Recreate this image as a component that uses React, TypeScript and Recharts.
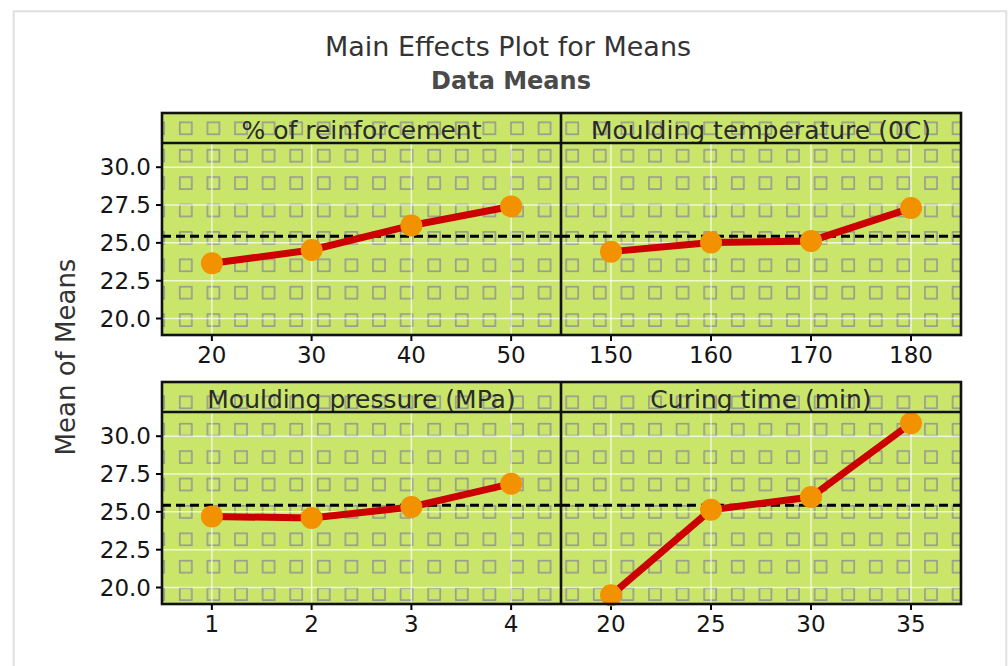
import React from 'react';
import { LineChart, Line, XAxis, YAxis, CartesianGrid, ReferenceLine } from 'recharts';

// Level settings and the mean response at each level
const reinforcementLevels = [20, 30, 40, 50];
const reinforcementMeans = [23.65, 24.53, 26.15, 27.41];

const temperatureLevels = [150, 160, 170, 180];
const temperatureMeans = [24.42, 25.02, 25.13, 27.3];

const pressureLevels = [1, 2, 3, 4];
const pressureMeans = [24.7, 24.59, 25.32, 26.86];

const curingLevels = [20, 25, 30, 35];
const curingMeans = [19.49, 25.14, 25.98, 30.86];

const grandMean = 25.43;

const yTicks = [20, 22.5, 25, 27.5, 30];
const yDomain = [18.91, 31.6];

const FONT = 'DejaVu Sans';
const GREEN = '#c9e66b';

// panel frame geometry (page pixels)
const COLS = [
  { left: 162, right: 561 },
  { left: 561, right: 961 },
];
const ROWS = [
  { strip: 113, top: 143, bottom: 335 },
  { strip: 382, top: 412, bottom: 604 },
];
const AXIS_H = 50;

interface PanelProps {
  title: string;
  levels: number[];
  means: number[];
  xDomain: [number, number];
  col: number;
  row: number;
}

const tickStyle = { fill: '#151515', fontSize: 23, fontFamily: FONT };

const Panel = ({ levels, means, xDomain, col, row }: PanelProps) => {
  const data = levels.map((x, i) => ({ x, mean: means[i] }));
  const c = COLS[col];
  const r = ROWS[row];
  const isLeft = col === 0;
  const chartLeft = isLeft ? 80 : c.left;
  const yWidth = isLeft ? c.left - chartLeft : 0;
  const rightPad = isLeft ? 0 : 20;
  const width = c.right - c.left + yWidth + rightPad;
  const height = r.bottom - r.top + AXIS_H;

  return (
    <div style={{ position: 'absolute', left: chartLeft, top: r.top }}>
      <LineChart width={width} height={height} data={data} margin={{ top: 0, right: rightPad, bottom: 0, left: 0 }}>
        <CartesianGrid stroke="#ffffff" strokeOpacity={0.7} strokeWidth={1.5} />
        <XAxis
          type="number"
          dataKey="x"
          domain={xDomain}
          ticks={levels}
          height={AXIS_H}
          axisLine={false}
          tickLine={{ stroke: '#000', strokeWidth: 2 }}
          tickSize={6}
          tickMargin={6}
          tick={tickStyle}
        />
        <YAxis
          type="number"
          domain={yDomain}
          ticks={yTicks}
          hide={!isLeft}
          width={yWidth}
          axisLine={false}
          tickLine={{ stroke: '#000', strokeWidth: 2 }}
          tickSize={6}
          tickMargin={5}
          tickFormatter={(v: number) => v.toFixed(1)}
          tick={tickStyle}
        />
        <ReferenceLine y={grandMean} stroke="#000" strokeWidth={3} strokeDasharray="9 5" />
        <Line
          type="linear"
          dataKey="mean"
          stroke="#cc0000"
          strokeWidth={7}
          dot={{ r: 11, fill: '#f39200', stroke: 'none' }}
          activeDot={false}
          isAnimationActive={false}
        />
      </LineChart>
    </div>
  );
};

const panels: PanelProps[] = [
  { title: '% of reinforcement', levels: reinforcementLevels, means: reinforcementMeans, xDomain: [15, 55], col: 0, row: 0 },
  { title: 'Moulding temperature (0C)', levels: temperatureLevels, means: temperatureMeans, xDomain: [145, 185], col: 1, row: 0 },
  { title: 'Moulding pressure (MPa)', levels: pressureLevels, means: pressureMeans, xDomain: [0.5, 4.5], col: 0, row: 1 },
  { title: 'Curing time (min)', levels: curingLevels, means: curingMeans, xDomain: [17.5, 37.5], col: 1, row: 1 },
];

export default function App() {
  return (
    <div style={{ position: 'absolute', left: 0, top: 0, width: 1008, height: 666, background: '#fff', fontFamily: FONT }}>
      {/* backdrop: frame, panel fills, strip labels, titles */}
      <svg width={1008} height={666} style={{ position: 'absolute', left: 0, top: 0 }}>
        <defs>
          <pattern id="squares" patternUnits="userSpaceOnUse" x={172} y={114.6} width={27.6} height={27.4}>
            <rect x={7.8} y={7.7} width={12} height={12} fill="none" stroke="#939393" strokeWidth={1.5} />
          </pattern>
        </defs>
        <path d="M13.7,666 V11.3 H1006.3 V666" fill="none" stroke="#e0e0e0" strokeWidth={2} />
        {panels.map((p) => {
          const c = COLS[p.col];
          const r = ROWS[p.row];
          return (
            <g key={p.title}>
              <rect x={c.left} y={r.strip} width={c.right - c.left} height={r.bottom - r.strip} fill={GREEN} />
              <rect x={c.left} y={r.strip} width={c.right - c.left} height={r.bottom - r.strip} fill="url(#squares)" />
              <text
                x={(c.left + c.right) / 2}
                y={r.strip + 25.5}
                textAnchor="middle"
                fontSize={25}
                fontFamily={FONT}
                fill="#2b2b2b"
              >
                {p.title}
              </text>
            </g>
          );
        })}
        <text x={508} y={56} textAnchor="middle" fontSize={27} fontFamily={FONT} fill="#333">
          Main Effects Plot for Means
        </text>
        <text x={511} y={89} textAnchor="middle" fontSize={24} fontWeight="bold" fontFamily={FONT} fill="#4a4a4a">
          Data Means
        </text>
        <text
          x={0}
          y={0}
          transform="translate(75,357) rotate(-90)"
          textAnchor="middle"
          fontSize={26}
          fontFamily={FONT}
          fill="#333"
        >
          Mean of Means
        </text>
      </svg>

      {panels.map((p) => (
        <Panel key={p.title} {...p} />
      ))}

      {/* panel borders on top */}
      <svg width={1008} height={666} style={{ position: 'absolute', left: 0, top: 0, pointerEvents: 'none' }}>
        {ROWS.map((r, i) => (
          <g key={i} fill="none" stroke="#111" strokeWidth={2.6}>
            <rect x={COLS[0].left} y={r.strip} width={COLS[1].right - COLS[0].left} height={r.bottom - r.strip} />
            <line x1={COLS[0].left} x2={COLS[1].right} y1={r.top} y2={r.top} />
            <line x1={COLS[1].left} x2={COLS[1].left} y1={r.strip} y2={r.bottom} />
          </g>
        ))}
      </svg>
    </div>
  );
}
